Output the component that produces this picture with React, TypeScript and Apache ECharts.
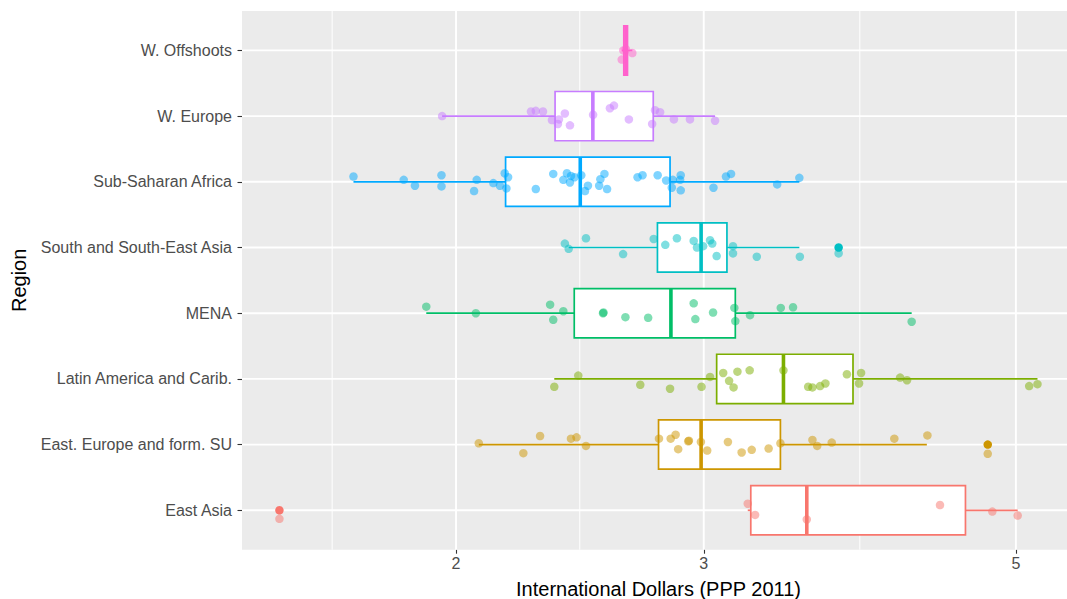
import React, { useEffect, useRef } from "react";
import * as echarts from "echarts";

// Regions, bottom to top
const regions = [
  "East Asia",
  "East. Europe and form. SU",
  "Latin America and Carib.",
  "MENA",
  "South and South-East Asia",
  "Sub-Saharan Africa",
  "W. Europe",
  "W. Offshoots",
];
const colors = ["#F8766D", "#CD9600", "#7CAE00", "#00BE67", "#00BFC4", "#00A9FF", "#C77CFF", "#FF61CC"];

// Box statistics (International Dollars, log scale)
const whiskerLow = [3.224, 2.076, 2.349, 1.905, 2.405, 1.691, 1.955, 2.623];
const q1 = [3.24, 2.786, 3.064, 2.427, 2.781, 2.169, 2.352, 2.632];
const median = [3.551, 2.987, 3.418, 2.843, 2.987, 2.451, 2.502, 2.641];
const q3 = [4.604, 3.401, 3.83, 3.159, 3.116, 2.839, 2.762, 2.648];
const whiskerHigh = [5.015, 4.322, 5.18, 4.216, 3.508, 3.508, 3.056, 2.669];

// Outliers
const outlierRegion = [0, 1, 4];
const outlierValue = [1.498, 4.775, 3.741];

// Jittered points per region (value, vertical jitter in category units)
const eastAsiaVals = [3.224, 3.263, 3.551, 4.416, 4.811, 5.015, 1.498];
const eastAsiaJit = [0.1, -0.07, -0.14, 0.08, -0.02, -0.08, -0.13];
const eastEuropeVals = [2.076, 2.233, 2.295, 2.414, 2.436, 2.474, 2.788, 2.842, 2.865, 2.877, 2.925, 2.928, 2.986, 3.017, 3.121, 3.192, 3.245, 3.336, 3.401, 3.584, 3.612, 3.699, 4.098, 4.326, 4.775];
const eastEuropeJit = [0.02, -0.13, 0.13, 0.09, 0.11, -0.02, 0.09, 0.09, 0.15, -0.07, 0.05, 0.06, 0.04, -0.09, 0.04, -0.12, -0.08, -0.06, 0.02, 0.07, -0.02, 0.03, 0.09, 0.14, -0.14];
const latAmVals = [2.349, 2.443, 2.704, 2.839, 2.989, 3.031, 3.097, 3.127, 3.15, 3.17, 3.234, 3.418, 3.559, 3.584, 3.629, 3.661, 3.792, 3.881, 3.868, 4.137, 4.184, 5.11, 5.18];
const latAmJit = [-0.12, 0.05, -0.09, -0.15, -0.12, 0.03, 0.09, -0.03, -0.13, 0.11, 0.13, 0.13, -0.12, -0.13, -0.11, -0.07, 0.07, 0.09, -0.07, 0.02, -0.02, -0.11, -0.08];
const menaVals = [1.905, 2.066, 2.333, 2.345, 2.384, 2.544, 2.546, 2.639, 2.739, 2.951, 2.959, 3.046, 3.154, 3.159, 3.236, 3.403, 3.472, 4.216];
const menaJit = [0.1, 0.0, 0.13, -0.1, 0.03, 0.0, 0.01, -0.06, -0.07, 0.15, -0.09, 0.01, 0.08, -0.12, -0.03, 0.08, 0.09, -0.13];
const sseaVals = [2.39, 2.405, 2.474, 2.629, 2.764, 2.817, 2.871, 2.951, 2.967, 2.997, 3.031, 3.042, 3.064, 3.147, 3.147, 3.272, 3.511, 3.741];
const sseaJit = [0.06, -0.02, 0.14, -0.1, 0.13, 0.04, 0.14, 0.1, 0.0, 0.02, 0.11, 0.06, -0.13, 0.02, -0.09, -0.14, -0.14, -0.09];
const ssaVals = [1.691, 1.836, 1.87, 1.953, 1.953, 2.06, 2.069, 2.126, 2.149, 2.166, 2.178, 2.172, 2.279, 2.345, 2.384, 2.398, 2.414, 2.41, 2.428, 2.455, 2.482, 2.47, 2.528, 2.533, 2.55, 2.561, 2.692, 2.714, 2.782, 2.821, 2.847, 2.852, 2.889, 2.889, 2.886, 3.048, 3.111, 3.137, 3.383, 3.508];
const ssaJit = [0.08, 0.03, -0.06, 0.1, -0.07, -0.14, 0.03, -0.02, -0.06, 0.13, 0.07, -0.1, -0.11, 0.12, 0.03, 0.13, 0.09, -0.01, 0.07, 0.1, -0.06, -0.14, -0.06, 0.04, 0.12, -0.11, 0.07, 0.1, 0.1, 0.02, -0.09, 0.03, 0.1, -0.13, 0.03, -0.09, 0.08, 0.12, -0.04, 0.06];
const wEuropeVals = [1.955, 2.261, 2.279, 2.306, 2.34, 2.367, 2.363, 2.39, 2.41, 2.503, 2.573, 2.59, 2.654, 2.757, 2.77, 2.793, 2.857, 2.933, 3.056];
const wEuropeJit = [0.0, 0.07, 0.08, 0.07, -0.06, -0.05, -0.12, 0.04, -0.14, 0.02, 0.12, 0.16, -0.05, -0.12, 0.09, 0.06, -0.05, -0.05, -0.07];
const wOffshootsVals = [2.623, 2.63, 2.641, 2.669];
const wOffshootsJit = [-0.14, 0.0, 0.02, -0.04];

const pointVals = [eastAsiaVals, eastEuropeVals, latAmVals, menaVals, sseaVals, ssaVals, wEuropeVals, wOffshootsVals];
const pointJit = [eastAsiaJit, eastEuropeJit, latAmJit, menaJit, sseaJit, ssaJit, wEuropeJit, wOffshootsJit];

// Axis
const majorBreaks = [2, 3, 5];
const minorBreaks = [1.633, 2.449, 3.873];
const xLimits = [1.409, 5.508];
const yLimits = [-0.6, 7.6];

const L = Math.log;

export default function App() {
  const ref = useRef<HTMLDivElement>(null);
  useEffect(() => {
    document.documentElement.style.overflow = "hidden";
    document.body.style.overflow = "hidden";
    const chart = echarts.init(ref.current!, null, { renderer: "svg" });
    const font = "Liberation Sans, Arial, Helvetica, sans-serif";

    const vLine = (width: number) => (params: any, api: any) => {
      const x = api.value(0);
      const p1 = api.coord([x, yLimits[0]]);
      const p2 = api.coord([x, yLimits[1]]);
      return {
        type: "line",
        shape: { x1: p1[0], y1: p1[1], x2: p2[0], y2: p2[1] },
        style: { stroke: "#FFFFFF", lineWidth: width },
        silent: true,
      };
    };

    const pointData: any[] = [];
    pointVals.forEach((vals, i) => {
      vals.forEach((v, k) => {
        pointData.push({
          value: [L(v), i + pointJit[i][k]],
          itemStyle: { color: colors[i], opacity: 0.5 },
        });
      });
    });

    const outlierData = outlierRegion.map((r, k) => ({
      value: [L(outlierValue[k]), r],
      itemStyle: { color: colors[r], opacity: 1 },
    }));

    const option: any = {
      animation: false,
      textStyle: { fontFamily: font },
      grid: {
        left: 242,
        top: 11,
        width: 833,
        height: 538.7,
        show: true,
        backgroundColor: "#EBEBEB",
        borderWidth: 0,
        outerBoundsMode: "none",
        containLabel: false,
      },
      xAxis: {
        type: "value",
        position: "bottom",
        min: L(xLimits[0]),
        max: L(xLimits[1]),
        splitLine: { show: false },
        axisLine: { show: false, onZero: false },
        axisTick: {
          show: true,
          customValues: majorBreaks.map(L),
          length: 4,
          lineStyle: { color: "#333333", width: 1.1 },
        },
        axisLabel: {
          customValues: majorBreaks.map(L),
          formatter: (v: number) => String(Math.round(Math.exp(v))),
          fontSize: 16,
          color: "#4D4D4D",
          margin: 6,
          fontFamily: font,
        },
        name: "International Dollars (PPP 2011)",
        nameLocation: "middle",
        nameGap: 29,
        nameTextStyle: { fontSize: 20, lineHeight: 20, color: "#000000", fontFamily: font },
      },
      yAxis: {
        type: "value",
        position: "left",
        min: yLimits[0],
        max: yLimits[1],
        splitLine: { show: false },
        axisLine: { show: false, onZero: false },
        axisTick: {
          show: true,
          customValues: regions.map((_, i) => i),
          length: 4.5,
          lineStyle: { color: "#333333", width: 1.1 },
        },
        axisLabel: {
          customValues: regions.map((_, i) => i),
          formatter: (v: number) => regions[Math.round(v)],
          fontSize: 16,
          color: "#4D4D4D",
          margin: 10,
          fontFamily: font,
        },
        name: "Region",
        nameLocation: "middle",
        nameGap: 213,
        nameRotate: 90,
        nameTextStyle: { fontSize: 20, color: "#000000", fontFamily: font },
      },
      series: [
        {
          type: "custom",
          z: 1,
          silent: true,
          clip: false,
          data: minorBreaks.map((v) => [L(v), yLimits[0]]),
          renderItem: vLine(1),
        },
        {
          type: "custom",
          z: 1,
          silent: true,
          clip: false,
          data: majorBreaks.map((v) => [L(v), yLimits[0]]),
          renderItem: vLine(1.9),
        },
        {
          type: "custom",
          z: 1,
          silent: true,
          clip: false,
          data: regions.map((_, i) => [L(xLimits[0]), i]),
          renderItem: (params: any, api: any) => {
            const y = api.value(1);
            const p1 = api.coord([L(xLimits[0]), y]);
            const p2 = api.coord([L(xLimits[1]), y]);
            return {
              type: "line",
              shape: { x1: p1[0], y1: p1[1], x2: p2[0], y2: p2[1] },
              style: { stroke: "#FFFFFF", lineWidth: 1.9 },
              silent: true,
            };
          },
        },
        {
          type: "custom",
          z: 2,
          silent: true,
          encode: { x: [1, 2, 3, 4, 5], y: 0 },
          data: regions.map((_, i) => [i, L(whiskerLow[i]), L(q1[i]), L(median[i]), L(q3[i]), L(whiskerHigh[i])]),
          renderItem: (params: any, api: any) => {
            const i = api.value(0);
            const c = colors[params.dataIndex];
            const lo = api.coord([api.value(1), i]);
            const a = api.coord([api.value(2), i + 0.375]);
            const m = api.coord([api.value(3), i]);
            const b = api.coord([api.value(4), i - 0.375]);
            const hi = api.coord([api.value(5), i]);
            const yc = lo[1];
            return {
              type: "group",
              children: [
                {
                  type: "line",
                  shape: { x1: lo[0], y1: yc, x2: a[0], y2: yc },
                  style: { stroke: c, lineWidth: 1.7 },
                },
                {
                  type: "line",
                  shape: { x1: b[0], y1: yc, x2: hi[0], y2: yc },
                  style: { stroke: c, lineWidth: 1.7 },
                },
                {
                  type: "rect",
                  shape: { x: a[0], y: a[1], width: b[0] - a[0], height: b[1] - a[1] },
                  style: { fill: "#FFFFFF", stroke: c, lineWidth: 1.7 },
                },
                {
                  type: "line",
                  shape: { x1: m[0], y1: a[1], x2: m[0], y2: b[1] },
                  style: { stroke: c, lineWidth: 3.6 },
                },
              ],
            };
          },
        },
        {
          type: "scatter",
          z: 3,
          symbolSize: 8.5,
          silent: true,
          data: outlierData,
        },
        {
          type: "scatter",
          z: 4,
          symbolSize: 8.5,
          silent: true,
          data: pointData,
        },
      ],
    };
    chart.setOption(option);
    return () => chart.dispose();
  }, []);
  return (
    <div
      ref={ref}
      style={{ position: "fixed", left: 0, top: 0, width: 1080, height: 599, background: "#FFFFFF" }}
    />
  );
}
